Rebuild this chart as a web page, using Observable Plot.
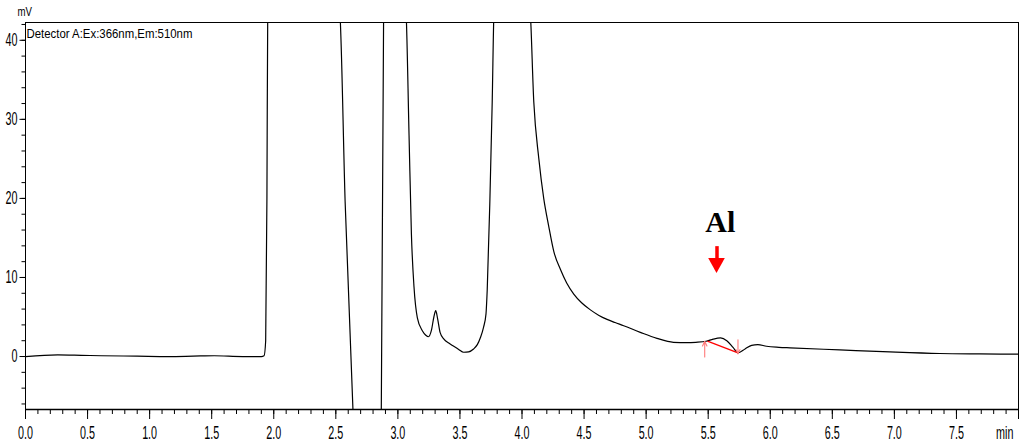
<!DOCTYPE html>
<html><head><meta charset="utf-8">
<script src="https://cdn.jsdelivr.net/npm/d3@7"></script>
<script src="https://cdn.jsdelivr.net/npm/@observablehq/plot@0.6"></script>
<style>body{margin:0;background:#fff;overflow:hidden}</style>
</head><body><div id="chart"></div>
<script>
// Chromatogram trace (time in min, signal in mV); off-scale peaks carry off-scale values
const time = [0, 0.26, 0.45, 0.61, 0.9, 1.15, 1.35, 1.52, 1.75, 1.9, 1.922, 1.935, 1.945, 1.952, 2.2,
  2.53, 2.575, 2.64, 2.75, 2.866, 2.885, 2.95,
  3.065, 3.09, 3.109, 3.13, 3.157, 3.197, 3.225, 3.246, 3.27, 3.29, 3.305, 3.32, 3.34, 3.371, 3.41, 3.44, 3.49, 3.53, 3.57, 3.61, 3.64, 3.666, 3.69, 3.71, 3.72, 3.741, 3.76, 3.775, 3.9,
  4.065, 4.095, 4.135, 4.175, 4.215, 4.256, 4.31, 4.36, 4.417, 4.48, 4.551, 4.62, 4.685, 4.75, 4.819, 4.953, 5.087, 5.22, 5.33, 5.40,
  5.483, 5.54, 5.60, 5.65, 5.70, 5.74, 5.797, 5.85, 5.90, 5.97, 6.07, 6.16, 6.56, 6.963, 7.365, 7.686, 8.0];
const mV = [0.0, 0.2, 0.15, 0.1, 0.05, 0.0, 0.05, 0.1, 0.0, 0.0, 0.1, 2, 20, 45, 60,
  44, 19.6, -7.5, -30, -8, 43, 60,
  44, 28, 15.5, 8.8, 4.9, 3.27, 2.7, 2.5, 3.3, 5.0, 5.8, 4.8, 3.06, 2.2, 1.7, 1.4, 0.9, 0.54, 0.6, 0.96, 1.5, 2.43, 3.7, 5.4, 8.5, 19.6, 32.2, 44, 60,
  44, 32.2, 25.1, 20.0, 16.5, 13.3, 11.0, 9.3, 7.9, 6.8, 5.9, 5.2, 4.7, 4.3, 3.9, 3.06, 2.3, 1.8, 1.75, 1.8,
  1.93, 2.2, 2.35, 2.0, 1.17, 0.46, 0.96, 1.42, 1.5, 1.3, 1.17, 1.1, 0.84, 0.58, 0.38, 0.33, 0.3];

// Axis ticks
const xMajorTicks = [0, 0.5, 1, 1.5, 2, 2.5, 3, 3.5, 4, 4.5, 5, 5.5, 6, 6.5, 7, 7.5, 8];
const xTickLabels = [0, 0.5, 1, 1.5, 2, 2.5, 3, 3.5, 4, 4.5, 5, 5.5, 6, 6.5, 7, 7.5];
const xMinorTicks = d3.range(0, 81).map(i => i / 10);
const yMajorTicks = [0, 10, 20, 30, 40];
const yMinorTicks = d3.range(-6, 43, 2);
const xUnit = "min";
const yUnit = "mV";
const detectorLabel = "Detector A:Ex:366nm,Em:510nm";

// Annotation (peak "Al")
const peakName = "Al";
const peakLabelPos = {t: 5.597, v: 17.0};
const peakArrowShaft = {t: 5.571, v1: 13.9, v2: 12.3};
const peakArrowHeadT = [5.504, 5.571, 5.638];
const peakArrowHeadTop = [12.4, 12.4, 12.4];
const peakArrowHeadTip = [12.4, 10.5, 12.4];
const baselineStart = {t: 5.494, v: 1.94};
const baselineEnd = {t: 5.74, v: 0.47};
const startMarker = {t: 5.472, v1: -0.05, v2: 1.94};
const endMarker = {t: 5.74, v1: 2.11, v2: 0.34};

const rows = time.map((t, i) => ({t, v: mV[i]}));
const headRows = peakArrowHeadT.map((t, i) => ({t, y1: peakArrowHeadTop[i], y2: peakArrowHeadTip[i]}));

const sans = "'Liberation Sans',Arial,sans-serif";
const fmt = d3.format(".1f");

const plot = Plot.plot({
  width: 1025,
  height: 448,
  marginLeft: 25,
  marginRight: 7,
  marginTop: 22,
  marginBottom: 39,
  style: {fontFamily: sans, fontSize: "18px", background: "#fff", color: "#000", overflow: "visible"},
  x: {domain: [0, 8], label: null},
  y: {domain: [-6.7, 42.25], label: null},
  marks: [
    Plot.ruleY([-6.7], {stroke: "#808080", strokeWidth: 2}),
    Plot.frame({stroke: "#000", strokeWidth: 1}),
    Plot.axisX({ticks: xMinorTicks, tickSize: 5, tickFormat: () => "", label: null, stroke: "#000"}),
    Plot.axisX({ticks: xMajorTicks, tickSize: 10, tickFormat: () => "", label: null, stroke: "#000"}),
    Plot.axisY({ticks: yMinorTicks, tickSize: 3.5, tickFormat: () => "", label: null, stroke: "#000"}),
    Plot.axisY({ticks: yMajorTicks, tickSize: 5.5, tickFormat: () => "", label: null, stroke: "#000"}),
    Plot.text(xTickLabels, {x: d => d, text: d => fmt(d), frameAnchor: "bottom", dy: 24, lineAnchor: "middle",
      fontSize: 18, fill: "#000"}),
    Plot.text(yMajorTicks, {y: d => d, text: d => String(d), frameAnchor: "left", dx: -8, textAnchor: "end",
      lineAnchor: "middle", fontSize: 18, fill: "#000"}),
    Plot.line(rows, {x: "t", y: "v", stroke: "#000", strokeWidth: 1.2, curve: "monotone-x", clip: true}),
    Plot.link([baselineStart], {x1: "t", y1: "v", x2: () => baselineEnd.t, y2: () => baselineEnd.v, stroke: "#ff0000", strokeWidth: 1.3}),
    Plot.arrow([startMarker, endMarker], {x1: "t", x2: "t", y1: "v1", y2: "v2", stroke: "#ff7a7a", strokeWidth: 1.1, headLength: 10, headAngle: 50, bend: 0}),
    Plot.ruleX([peakArrowShaft], {x: "t", y1: "v1", y2: "v2", stroke: "#ff0000", strokeWidth: 3.5}),
    Plot.areaY(headRows, {x: "t", y1: "y1", y2: "y2", fill: "#ff0000"}),
    Plot.text([peakName], {x: () => peakLabelPos.t, y: () => peakLabelPos.v, fontSize: 30, fontWeight: "bold",
      fontFamily: "'Liberation Serif','Times New Roman',serif", lineAnchor: "middle", fill: "#000"}),
    Plot.text([detectorLabel], {frameAnchor: "top-left", dx: 1, dy: 7, textAnchor: "start", lineAnchor: "top",
      fontSize: 12.5, fill: "#000"}),
    Plot.text([yUnit], {frameAnchor: "top-left", dx: -8, dy: -10, textAnchor: "start", lineAnchor: "middle",
      fontSize: 12, fill: "#000"}),
    Plot.text([xUnit], {frameAnchor: "bottom-right", dx: -5, dy: 24, textAnchor: "end", lineAnchor: "middle",
      fontSize: 18, fill: "#000"})
  ]
});
document.getElementById("chart").appendChild(plot);

// Condense text horizontally to mimic the narrow instrument font
function squeeze(el, f) {
  const x = +(el.getAttribute("x") || 0);
  const T = el.getAttribute("transform") || "";
  el.setAttribute("transform", `${T} translate(${x},0) scale(${f},1) translate(${-x},0)`);
}
const probe = document.createElementNS("http://www.w3.org/2000/svg", "text");
probe.setAttribute("font-family", sans);
probe.setAttribute("font-size", "18");
probe.textContent = "0.0";
plot.appendChild(probe);
const probeLen = probe.getComputedTextLength();
probe.remove();
const f = probeLen > 0 ? 15 / probeLen : 1;
plot.querySelectorAll("text").forEach(el => {
  const s = el.textContent;
  if (/^-?\d+(\.\d)?$/.test(s) || s === xUnit) squeeze(el, f);
  else if (s === detectorLabel) { const w = el.getComputedTextLength(); if (w > 0) squeeze(el, 166 / w); }
  else if (s === yUnit) { const w = el.getComputedTextLength(); if (w > 0) squeeze(el, 14.5 / w); }
});
</script>
</body></html>
